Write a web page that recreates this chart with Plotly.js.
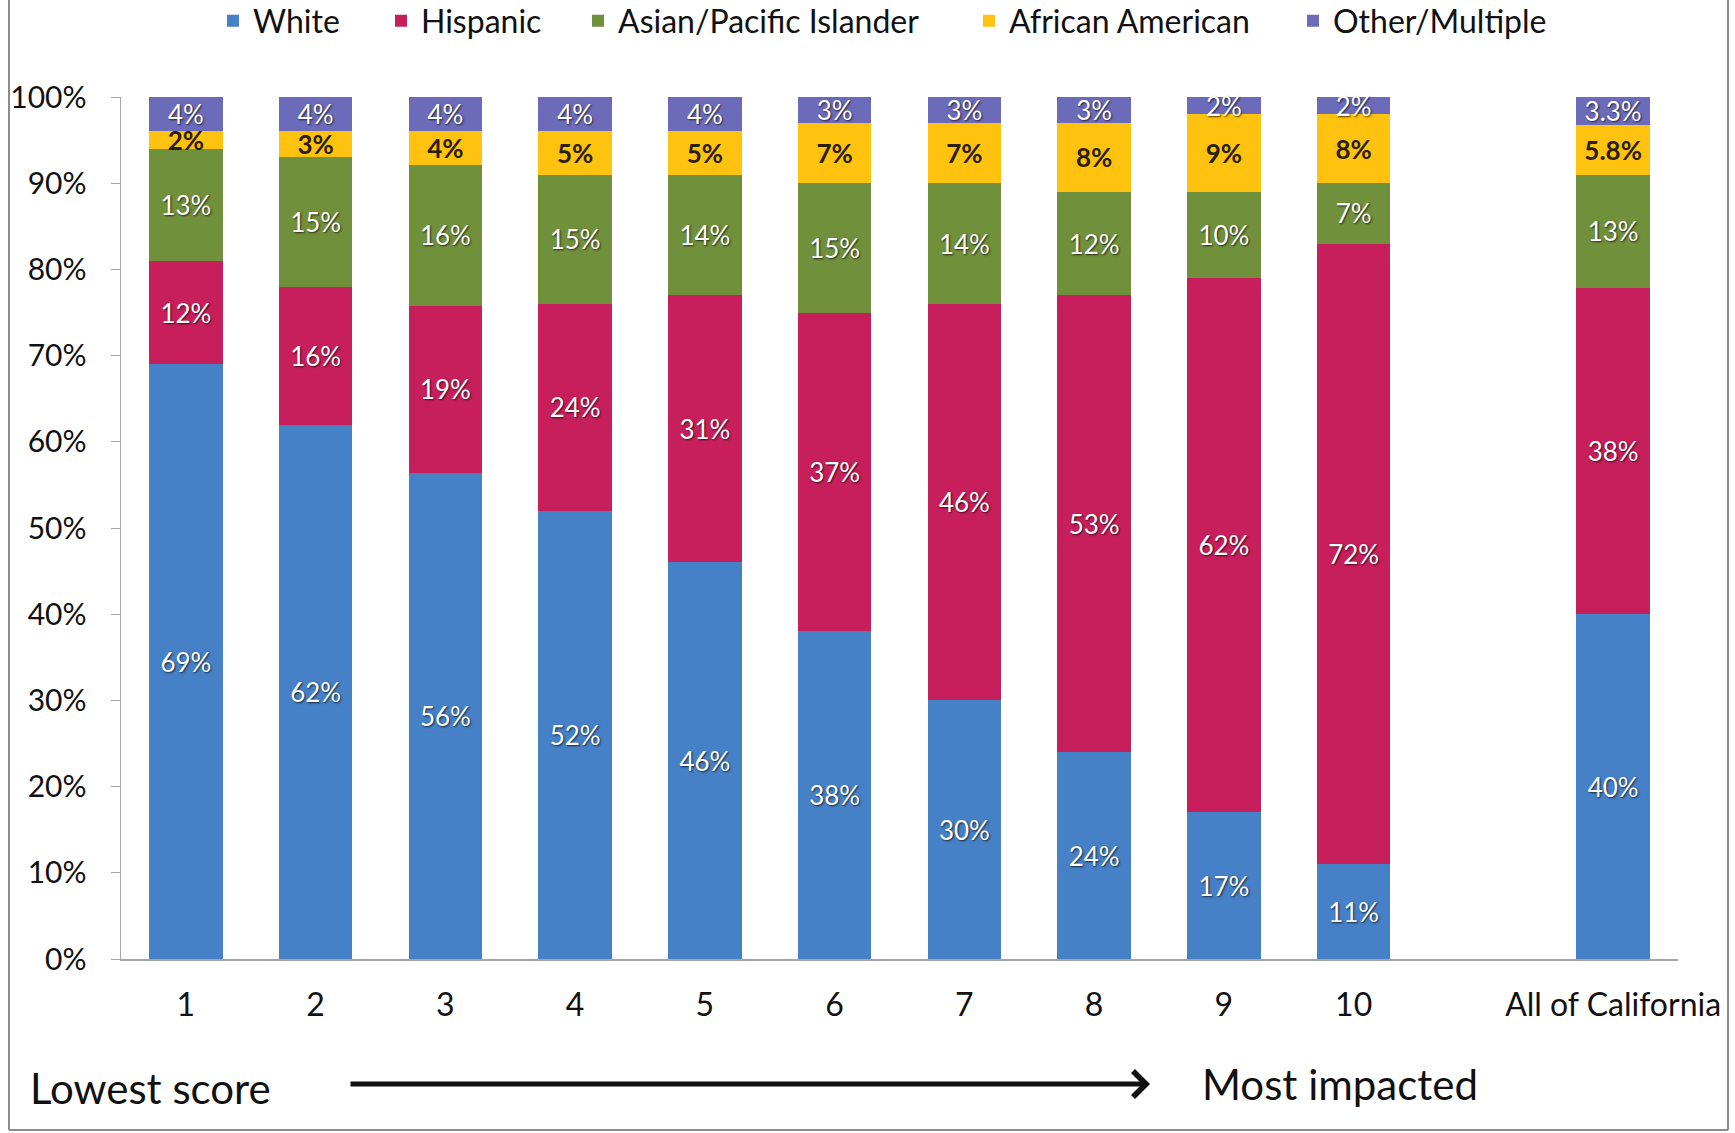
<!DOCTYPE html>
<html>
<head>
<meta charset="utf-8">
<script src="https://cdn.plot.ly/plotly-3.0.1.min.js"></script>
<style>html,body{margin:0;padding:0;background:#fff;}</style>
</head>
<body>
<div id="chart" style="width:1735px;height:1133px;"></div>
<script>
// ---- data ----
const categories = ['1','2','3','4','5','6','7','8','9','10',' ','All of California'];
const white    = [69, 62, 56.4, 52, 46, 38, 30, 24, 17, 11, null, 40];
const hispanic = [12, 16, 19.4, 24, 31, 37, 46, 53, 62, 72, null, 37.9];
const asian    = [13, 15, 16.3, 15, 14, 15, 14, 12, 10, 7, null, 13];
const afam     = [2, 3, 4, 5, 5, 7, 7, 8, 9, 8, null, 5.8];
const other    = [4, 4, 3.9, 4, 4, 3, 3, 3, 2, 2, null, 3.3];
const seriesNames = ['White','Hispanic','Asian/Pacific Islander','African American','Other/Multiple'];
const yTickVals = [0,10,20,30,40,50,60,70,80,90,100];
const yTickText = yTickVals.map(v => v + '%');

// ---- geometry / style ----
const W = 1735, H = 1133;
const M = {l:121, r:57, t:97, b:174, autoexpand: false};
const PW = W - M.l - M.r, PH = H - M.t - M.b;
const px = x => (x - M.l) / PW;
const py = y => (H - M.b - y) / PH;
const FONT = 'Lato, "Open Sans", sans-serif';
const colors = ['#4680c6','#c71f5c','#71903c','#ffc20e','#6b6bb9'];
const legendSquareX = [233, 401, 598, 989, 1313];

const fmtArr = (arr, caDigits) => arr.map((v,i) => i === arr.length-1 ? '%{value:.' + caDigits + 'f}%' : '%{value:.0f}%');

const seriesData = [white, hispanic, asian, afam, other];
const caDigits = [0,0,0,1,1];
const traces = seriesData.map((vals, k) => ({
  type: 'bar',
  name: seriesNames[k],
  x: categories,
  y: vals,
  marker: {color: colors[k], line: {width: 0}},
  texttemplate: fmtArr(vals, caDigits[k]),
  textposition: 'inside',
  insidetextanchor: 'middle',
  textangle: 0,
  constraintext: 'none',
  cliponaxis: false,
  textfont: k === 3
    ? {family: FONT, size: 26, color: '#2a1e05', weight: 'bold'}
    : {family: FONT, size: 26, color: '#ffffff', shadow: '1px 1px 2px rgba(0,0,0,0.7)'},
  hoverinfo: 'skip',
  legend: k === 0 ? 'legend' : 'legend' + (k+1)
}));

const legendBase = (k) => ({
  orientation: 'h',
  x: px(legendSquareX[k] - 20),
  xanchor: 'left',
  y: py(21),
  yanchor: 'middle',
  font: {family: FONT, size: 32, color: '#111'},
  bgcolor: 'rgba(0,0,0,0)',
  borderwidth: 0
});

const layout = {
  width: W, height: H,
  margin: M,
  paper_bgcolor: '#ffffff',
  plot_bgcolor: '#ffffff',
  barmode: 'stack',
  bargap: 0.435,
  showlegend: true,
  legend: legendBase(0),
  legend2: legendBase(1),
  legend3: legendBase(2),
  legend4: legendBase(3),
  legend5: legendBase(4),
  font: {family: FONT, color: '#111'},
  xaxis: {
    type: 'category',
    categoryorder: 'array',
    categoryarray: categories,
    showgrid: false,
    zeroline: false,
    showline: true,
    linecolor: '#a6a6a6',
    linewidth: 1.5,
    ticks: '',
    ticklabelstandoff: 17,
    tickfont: {family: FONT, size: 32, color: '#111'},
    fixedrange: true
  },
  yaxis: {
    range: [0, 100],
    tickmode: 'array',
    tickvals: yTickVals,
    ticktext: yTickText,
    showgrid: false,
    zeroline: false,
    showline: true,
    linecolor: '#a6a6a6',
    linewidth: 1.5,
    ticks: 'outside',
    ticklen: 9,
    tickcolor: '#a6a6a6',
    ticklabelstandoff: 18,
    tickfont: {family: FONT, size: 30, color: '#111'},
    fixedrange: true
  },
  shapes: [
    {type: 'line', xref: 'paper', yref: 'paper', x0: px(9), x1: px(9), y0: py(0), y1: py(1130), line: {color: '#8c8c8c', width: 2}},
    {type: 'line', xref: 'paper', yref: 'paper', x0: px(9), x1: px(1728), y0: py(1130), y1: py(1130), line: {color: '#8c8c8c', width: 2}},
    {type: 'line', xref: 'paper', yref: 'paper', x0: px(1728), x1: px(1728), y0: py(0), y1: py(1130), line: {color: '#8c8c8c', width: 2}}
  ],
  annotations: [
    {xref: 'paper', yref: 'paper', x: px(28), y: py(1088), xanchor: 'left', yanchor: 'middle',
     text: 'Lowest score', showarrow: false, font: {family: FONT, size: 42, color: '#111'}},
    {xref: 'paper', yref: 'paper', x: px(1200), y: py(1084), xanchor: 'left', yanchor: 'middle',
     text: 'Most impacted', showarrow: false, font: {family: FONT, size: 42, color: '#111'}},
    {xref: 'paper', yref: 'paper', x: px(1150), y: py(1084), text: '', showarrow: true,
     axref: 'pixel', ayref: 'pixel', ax: -(1150 - 349), ay: 0,
     arrowhead: 4, arrowsize: 1, arrowwidth: 5, arrowcolor: '#111'}
  ]
};

Plotly.newPlot('chart', traces, layout, {displayModeBar: false, staticPlot: true});
</script>
</body>
</html>
